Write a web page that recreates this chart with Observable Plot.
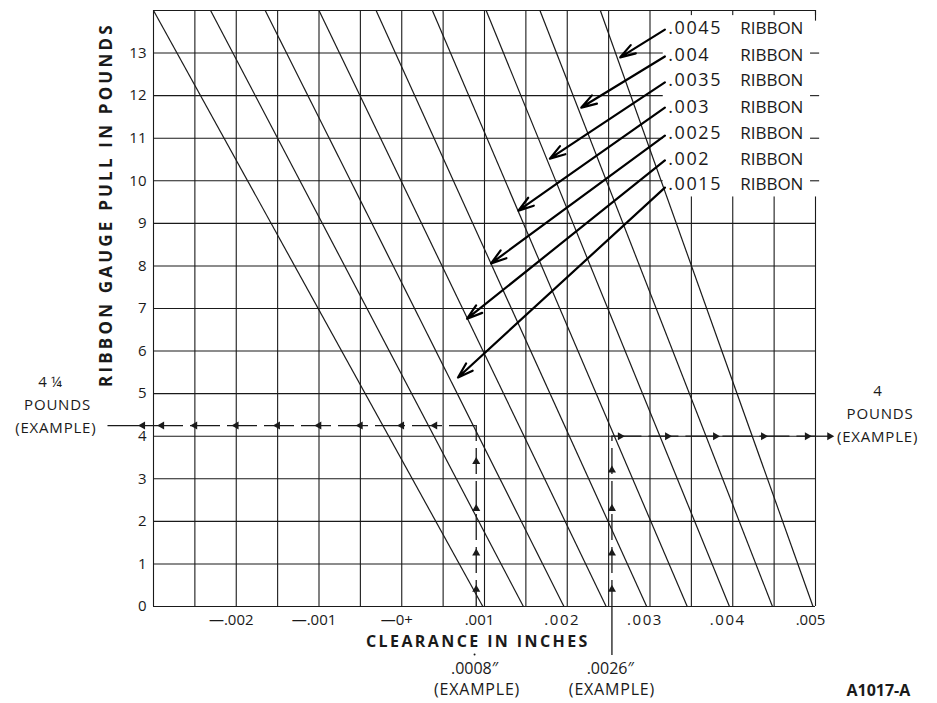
<!DOCTYPE html>
<html>
<head>
<meta charset="utf-8">
<script src="https://cdn.jsdelivr.net/npm/d3@7"></script>
<script src="https://cdn.jsdelivr.net/npm/@observablehq/plot@0.6"></script>
<style>
  html, body { margin: 0; padding: 0; background: #fff; }
  #chart svg { display: block; }
</style>
</head>
<body>
<div id="chart"></div>
<script>
// ---- grid & ticks ----
const gridX = [-0.003, -0.0025, -0.002, -0.0015, -0.001, -0.0005, 0, 0.0005, 0.001, 0.0015, 0.002, 0.0025, 0.003, 0.0035, 0.004, 0.0045, 0.005];
const gridY = [0, 1, 2, 3, 4, 5, 6, 7, 8, 9, 10, 11, 12, 13, 14];
const tickX = [-0.002, -0.001, 0, 0.001, 0.002, 0.003, 0.004, 0.005];
const tickXLabels = ["—.002", "—.001", "—0+", ".001", ".002", ".003", ".004", ".005"];
const tickY = [0, 1, 2, 3, 4, 5, 6, 7, 8, 9, 10, 11, 12, 13];

// ---- ribbon lines: clearance at 14 lb (top) and at 0 lb (bottom) ----
const lineRibbon = [".0005", ".001", ".0015", ".002", ".0025", ".003", ".0035", ".004", ".0045"];
const lineTop    = [-0.0030, -0.00231, -0.00165, -0.00100, -0.00031, 0.00037, 0.00102, 0.00167, 0.00240];
const lineBottom = [0.00098, 0.00147, 0.00196, 0.00247, 0.00296, 0.00345, 0.00396, 0.00448, 0.00497];

// ---- legend labels and arrows ----
const ribbonLabels = [".0045", ".004", ".0035", ".003", ".0025", ".002", ".0015"];
const labelY       = [13.58, 12.94, 12.36, 11.72, 11.11, 10.50, 9.91];
const arrowStartY  = [13.55, 12.92, 12.31, 11.72, 11.06, 10.48, 9.84];
const arrowEndX    = [0.00264, 0.00217, 0.00179, 0.00141, 0.00108, 0.00079, 0.00068];
const arrowEndY    = [12.90, 11.72, 10.52, 9.30, 8.06, 6.76, 5.38];

// ---- worked examples ----
const ex1Clearance = 0.0009, ex1Pull = 4.25;
const ex2Clearance = 0.00254, ex2Pull = 4;
const ex1HeadsX = [-0.0029, -0.0025, -0.002, -0.0015, -0.001, -0.0005, 0, 0.0004];
const ex1HeadsY = [0.4, 1.25, 2.3, 3.4];
const ex2HeadsY = [0.4, 1.25, 2.3, 3.2];
const ex2HeadsX = [0.00264, 0.00321, 0.00379, 0.00437, 0.0049];

const FONT = "'Open Sans', Lato, sans-serif";
const INK = "#1a1a1a";

const lines = lineRibbon.map((r, i) => ({r, x1: lineTop[i], y1: 14, x2: lineBottom[i], y2: 0}));
const arrows = ribbonLabels.map((r, i) => ({r, x1: 0.00318, y1: arrowStartY[i], x2: arrowEndX[i], y2: arrowEndY[i], ly: labelY[i]}));

const chart = Plot.plot({
  width: 937,
  height: 703,
  marginLeft: 153,
  marginRight: 122,
  marginTop: 10,
  marginBottom: 97,
  x: {domain: [-0.003, 0.005], axis: null},
  y: {domain: [0, 14], axis: null},
  style: {fontFamily: FONT, background: "#fff", color: INK},
  marks: [
    // grid
    Plot.ruleX(gridX, {x: d => d, y1: 0, y2: 14, stroke: INK, strokeWidth: 1.1}),
    Plot.ruleY(gridY, {y: d => d, x1: -0.003, x2: 0.005, stroke: INK, strokeWidth: 1.1}),
    // white box behind the legend
    Plot.rect([0], {x1: 0.00316, x2: 0.0052, y1: 9.62, y2: 13.88, fill: "#fff"}),
    Plot.ruleY([10, 11, 12, 13], {y: d => d, x1: 0.00494, x2: 0.00505, stroke: INK, strokeWidth: 1.1}),
    Plot.ruleX([0.005], {x: d => d, y1: 13.75, y2: 14, stroke: INK, strokeWidth: 1.1}),
    // ribbon lines
    Plot.link(lines, {x1: "x1", y1: "y1", x2: "x2", y2: "y2", stroke: INK, strokeWidth: 1.2}),
    // legend arrows
    Plot.arrow(arrows, {x1: "x1", y1: "y1", x2: "x2", y2: "y2", stroke: "#000", strokeWidth: 2.2, headLength: 11, headAngle: 35}),
    Plot.text(arrows, {x: 0.00322, y: "ly", text: "r", textAnchor: "start", fontSize: 18, fill: INK}),
    Plot.text(arrows, {x: 0.00409, y: "ly", text: () => "RIBBON", textAnchor: "start", fontSize: 17, fill: INK}),
    // example 1 (4 1/4 lb -> .0008")
    Plot.ruleY([ex1Pull], {y: d => d, x1: -0.003, x2: ex1Clearance, stroke: INK, strokeWidth: 1.3, strokeDasharray: "30,7"}),
    Plot.ruleY([ex1Pull], {y: d => d, x1: -0.00355, x2: -0.003, stroke: INK, strokeWidth: 1.3}),
    Plot.ruleX([ex1Clearance], {x: d => d, y1: 0, y2: ex1Pull, stroke: INK, strokeWidth: 1.3, strokeDasharray: "26,7"}),
    Plot.dot(ex1HeadsX.concat([-0.00313]), {x: d => d, y: ex1Pull, symbol: "triangle", r: 3, rotate: -90, fill: INK, stroke: "none"}),
    Plot.dot(ex1HeadsY, {x: ex1Clearance, y: d => d, symbol: "triangle", r: 3, fill: INK, stroke: "none"}),
    // example 2 (.0026" -> 4 lb)
    Plot.ruleX([ex2Clearance], {x: d => d, y1: 0, y2: ex2Pull, stroke: INK, strokeWidth: 1.3, strokeDasharray: "26,7"}),
    Plot.ruleX([ex2Clearance], {x: d => d, y1: -1.15, y2: 0, stroke: INK, strokeWidth: 1.3}),
    Plot.ruleY([ex2Pull], {y: d => d, x1: ex2Clearance, x2: 0.005, stroke: INK, strokeWidth: 1.3, strokeDasharray: "30,7"}),
    Plot.ruleY([ex2Pull], {y: d => d, x1: 0.005, x2: 0.00516, stroke: INK, strokeWidth: 1.3}),
    Plot.dot(ex2HeadsX.concat([0.00517]), {x: d => d, y: ex2Pull, symbol: "triangle", r: 3, rotate: 90, fill: INK, stroke: "none"}),
    Plot.dot(ex2HeadsY, {x: ex2Clearance, y: d => d, symbol: "triangle", r: 3, fill: INK, stroke: "none"}),
    Plot.dot([0], {x: 0.00088, y: -1.13, r: 1, fill: INK, stroke: "none"}),
    // axes labels
    Plot.text(tickY, {x: -0.003, y: d => d, text: d => String(d), textAnchor: "end", dx: -7, fontSize: 15, fill: INK}),
    Plot.text(tickX, {x: d => d, y: 0, text: (d, i) => tickXLabels[i], dy: 14, dx: -5, fontSize: 15, fill: INK}),
    Plot.text(["CLEARANCE IN INCHES"], {x: 0.00092, y: -0.82, text: d => d, fontSize: 16, fontWeight: "bold", fill: INK}),
    Plot.text(["RIBBON GAUGE PULL IN POUNDS"], {x: -0.00357, y: 9.44, text: d => d, rotate: -90, fontSize: 17, fontWeight: "bold", fill: INK}),
    // example annotations
    Plot.text(["4 ¼", "POUNDS", "(EXAMPLE)"], {x: [-0.00425, -0.00416, -0.00418], y: [5.28, 4.74, 4.19], text: d => d, fontSize: 15, fill: INK}),
    Plot.text(["4", "POUNDS", "(EXAMPLE)"], {x: [0.00575, 0.00578, 0.00575], y: [5.06, 4.51, 3.97], text: d => d, fontSize: 15, fill: INK}),
    Plot.text([".0008″", "(EXAMPLE)"], {x: [0.00088, 0.00091], y: [-1.46, -1.97], text: d => d, fontSize: 16, fill: INK}),
    Plot.text([".0026″", "(EXAMPLE)"], {x: [0.00252, 0.00254], y: [-1.46, -1.97], text: d => d, fontSize: 16, fill: INK}),
    Plot.text(["A1017-A"], {x: 0.00576, y: -2.1, text: d => d, fontSize: 16, fontWeight: "bold", fill: INK, lineAnchor: "bottom"})
  ]
});

d3.select(chart).selectAll("text").each(function () {
  const t = this.textContent;
  const s = d3.select(this);
  if (t === "RIBBON GAUGE PULL IN POUNDS") s.attr("letter-spacing", "3.2px");
  if (t === "CLEARANCE IN INCHES") s.attr("letter-spacing", "2.4px");
  if (ribbonLabels.includes(t)) s.attr("letter-spacing", "1.6px");
  if (t === "(EXAMPLE)" || t === "POUNDS") s.attr("letter-spacing", "0.8px");
});
document.getElementById("chart").appendChild(chart);
</script>
</body>
</html>
